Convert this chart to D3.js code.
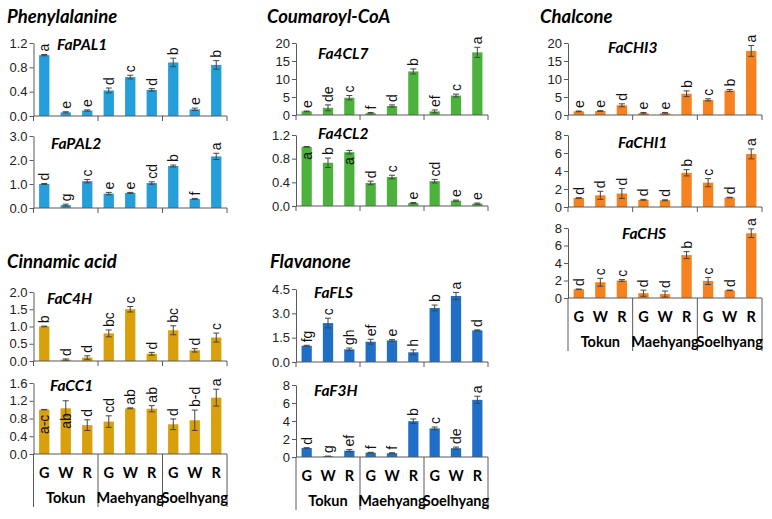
<!DOCTYPE html>
<html><head><meta charset="utf-8">
<script src="https://cdn.jsdelivr.net/npm/d3@7"></script>
<style>
body{margin:0;background:#fff;}
svg{display:block;font-family:Lato,"Open Sans",sans-serif;}
</style></head>
<body><svg id="c" width="772" height="519"></svg>
<script>
// ---------- data ----------
const cultivars = ["Tokun", "Maehyang", "Soelhyang"];
const tissues = ["G", "W", "R"];
const categories = cultivars.flatMap(c => tissues.map(t => c + "-" + t));

const pal1Values = [1.0, 0.06, 0.09, 0.42, 0.64, 0.43, 0.88, 0.11, 0.84];
const pal1Errors = [0.01, 0.01, 0.01, 0.04, 0.03, 0.02, 0.07, 0.02, 0.07];
const pal1Letters = ["a", "e", "e", "d", "c", "d", "b", "e", "b"];
const pal1Ticks = [0, 0.4, 0.8, 1.2];

const pal2Values = [1.0, 0.12, 1.12, 0.6, 0.63, 1.04, 1.75, 0.38, 2.15];
const pal2Errors = [0.02, 0.04, 0.07, 0.05, 0.02, 0.05, 0.04, 0.02, 0.13];
const pal2Letters = ["d", "g", "c", "e", "e", "cd", "b", "f", "a"];
const pal2Ticks = [0, 1, 2, 3];

const c4hValues = [1.0, 0.04, 0.1, 0.8, 1.5, 0.21, 0.89, 0.31, 0.68];
const c4hErrors = [0.01, 0.02, 0.05, 0.1, 0.08, 0.04, 0.13, 0.05, 0.13];
const c4hLetters = ["b", "d", "d", "bc", "c", "d", "bc", "d", "c"];
const c4hTicks = [0, 0.5, 1.0, 1.5, 2.0];

const cc1Values = [1.0, 1.03, 0.65, 0.73, 1.03, 1.02, 0.67, 0.76, 1.27];
const cc1Errors = [0.005, 0.17, 0.12, 0.13, 0.01, 0.07, 0.12, 0.23, 0.19];
const cc1Letters = ["a-c", "ab", "d", "cd", "ab", "ab", "d", "b-d", "a"];
const cc1Inside = [0, 1];
const cc1Ticks = [0, 0.4, 0.8, 1.2, 1.6];

const cl7Values = [1.0, 2.0, 4.8, 0.5, 2.5, 12.1, 1.0, 5.4, 17.4];
const cl7Errors = [0.1, 0.8, 0.6, 0.2, 0.3, 0.7, 0.4, 0.4, 1.4];
const cl7Letters = ["e", "de", "c", "f", "d", "b", "ef", "c", "a"];
const cl7Ticks = [0, 5, 10, 15, 20];

const cl2Values = [1.0, 0.73, 0.91, 0.39, 0.49, 0.05, 0.42, 0.09, 0.04];
const cl2Errors = [0.005, 0.08, 0.03, 0.03, 0.03, 0.01, 0.03, 0.01, 0.01];
const cl2Letters = ["a", "b", "a", "d", "c", "e", "cd", "e", "e"];
const cl2Inside = [0, 2];
const cl2Ticks = [0, 0.4, 0.8, 1.2];

const flsValues = [1.0, 2.4, 0.78, 1.25, 1.33, 0.6, 3.33, 4.07, 1.95];
const flsErrors = [0.03, 0.3, 0.08, 0.15, 0.05, 0.15, 0.18, 0.22, 0.03];
const flsLetters = ["fg", "c", "gh", "ef", "e", "h", "b", "a", "d"];
const flsTicks = [0, 1.5, 3.0, 4.5];

const f3hValues = [1.0, 0.08, 0.7, 0.48, 0.42, 3.98, 3.18, 0.98, 6.35];
const f3hErrors = [0.03, 0.02, 0.12, 0.04, 0.05, 0.25, 0.15, 0.12, 0.4];
const f3hLetters = ["d", "g", "ef", "f", "f", "b", "c", "de", "a"];
const f3hTicks = [0, 2, 4, 6, 8];

const chi3Values = [1.0, 1.1, 2.7, 0.5, 0.5, 5.9, 4.2, 6.8, 17.8];
const chi3Errors = [0.1, 0.1, 0.4, 0.2, 0.2, 0.8, 0.3, 0.3, 1.5];
const chi3Letters = ["e", "e", "d", "e", "e", "b", "c", "b", "a"];
const chi3Ticks = [0, 5, 10, 15, 20];

const chi1Values = [1.0, 1.3, 1.5, 0.8, 0.75, 3.8, 2.7, 1.05, 5.9];
const chi1Errors = [0.03, 0.45, 0.55, 0.05, 0.05, 0.35, 0.45, 0.03, 0.55];
const chi1Letters = ["d", "d", "d", "d", "d", "b", "c", "d", "a"];
const chi1Ticks = [0, 2, 4, 6, 8];

const chsValues = [1.0, 1.8, 2.0, 0.55, 0.45, 4.9, 1.95, 0.88, 7.4];
const chsErrors = [0.03, 0.45, 0.1, 0.35, 0.35, 0.4, 0.4, 0.03, 0.5];
const chsLetters = ["d", "c", "c", "d", "d", "b", "c", "d", "a"];
const chsTicks = [0, 2, 4, 6, 8];

const groupTitles = ["Phenylalanine", "Cinnamic acid", "Coumaroyl-CoA", "Flavanone", "Chalcone"];

// ---------- layout ----------
const C_PAL = "#259fda", C_CIN = "#d9a00c", C_4CL = "#4bb23b", C_FLA = "#1f6fc7", C_CHA = "#f5821f";
const panels = [
  {gene:"FaPAL1", v:pal1Values, e:pal1Errors, l:pal1Letters, t:pal1Ticks, fmt:".1f", x0:33.5, x1:227, yTop:43, yBot:116, color:C_PAL, gx:57, gy:50},
  {gene:"FaPAL2", v:pal2Values, e:pal2Errors, l:pal2Letters, t:pal2Ticks, fmt:".1f", x0:33.5, x1:227, yTop:136, yBot:208, color:C_PAL, gx:51, gy:149},
  {gene:"FaC4H", v:c4hValues, e:c4hErrors, l:c4hLetters, t:c4hTicks, fmt:".1f", x0:33.5, x1:227, yTop:292, yBot:361, color:C_CIN, gx:47, gy:304},
  {gene:"FaCC1", v:cc1Values, e:cc1Errors, l:cc1Letters, t:cc1Ticks, fmt:".1f", x0:33.5, x1:227, yTop:383, yBot:454, color:C_CIN, gx:50, gy:391, inside:cc1Inside, bottom:true},
  {gene:"Fa4CL7", v:cl7Values, e:cl7Errors, l:cl7Letters, t:cl7Ticks, fmt:"d", x0:296, x1:488, yTop:43, yBot:115, color:C_4CL, gx:318, gy:59},
  {gene:"Fa4CL2", v:cl2Values, e:cl2Errors, l:cl2Letters, t:cl2Ticks, fmt:".1f", x0:296, x1:488, yTop:135, yBot:206, color:C_4CL, gx:318, gy:139, inside:cl2Inside},
  {gene:"FaFLS", v:flsValues, e:flsErrors, l:flsLetters, t:flsTicks, fmt:".1f", x0:296, x1:488, yTop:289, yBot:362, color:C_FLA, gx:314, gy:298},
  {gene:"FaF3H", v:f3hValues, e:f3hErrors, l:f3hLetters, t:f3hTicks, fmt:"d", x0:296, x1:488, yTop:385, yBot:457, color:C_FLA, gx:314, gy:396, bottom:true},
  {gene:"FaCHI3", v:chi3Values, e:chi3Errors, l:chi3Letters, t:chi3Ticks, fmt:"d", x0:568, x1:762, yTop:43, yBot:115, color:C_CHA, gx:608, gy:53},
  {gene:"FaCHI1", v:chi1Values, e:chi1Errors, l:chi1Letters, t:chi1Ticks, fmt:"d", x0:568, x1:762, yTop:135, yBot:207, color:C_CHA, gx:618, gy:148},
  {gene:"FaCHS", v:chsValues, e:chsErrors, l:chsLetters, t:chsTicks, fmt:"d", x0:568, x1:762, yTop:228, yBot:298, color:C_CHA, gx:622, gy:239, bottom:true}
];
const titlePos = [[7, 23], [7, 268], [267, 23], [270, 268], [540, 23]];
const ARIAL = "'Liberation Sans', Arial, sans-serif";

const svg = d3.select("#c");
const AX = "#595959";

groupTitles.forEach((t, i) => {
  svg.append("text").attr("x", titlePos[i][0]).attr("y", titlePos[i][1])
    .attr("font-size", 18.5).attr("font-weight", "bold").attr("font-style", "italic")
    .attr("fill", "#000").text(t);
});

panels.forEach(p => {
  const g = svg.append("g");
  const x = d3.scaleBand().domain(categories).range([p.x0, p.x1]).paddingInner(0.52).paddingOuter(0.26);
  const ymax = d3.max(p.t);
  const y = d3.scaleLinear().domain([0, ymax]).range([p.yBot, p.yTop]);
  const fmt = d3.format(p.fmt);

  // y axis
  const yAxis = d3.axisLeft(y).tickValues(p.t).tickFormat(fmt).tickSize(4).tickSizeOuter(0);
  const ya = g.append("g").attr("transform", `translate(${p.x0},0)`).call(yAxis);
  ya.select(".domain").attr("stroke", AX);
  ya.selectAll(".tick line").attr("stroke", AX);
  ya.selectAll(".tick text").attr("font-size", 13).attr("fill", "#222").attr("x", -6)
    .attr("font-family", ARIAL);

  // bars
  g.selectAll("rect.bar").data(p.v).join("rect")
    .attr("x", (d, i) => x(categories[i])).attr("width", x.bandwidth())
    .attr("y", d => y(d)).attr("height", d => y(0) - y(d)).attr("fill", p.color);

  // error bars
  const cap = 3;
  p.v.forEach((d, i) => {
    const cx = x(categories[i]) + x.bandwidth() / 2;
    const lo = y(Math.max(0, d - p.e[i])), hi = y(d + p.e[i]);
    g.append("line").attr("x1", cx).attr("x2", cx).attr("y1", lo).attr("y2", hi).attr("stroke", "#444").attr("stroke-width", 1);
    [lo, hi].forEach(yy => g.append("line").attr("x1", cx - cap).attr("x2", cx + cap).attr("y1", yy).attr("y2", yy).attr("stroke", "#444").attr("stroke-width", 1));
    // letter
    const inside = p.inside && p.inside.includes(i);
    const ly = inside ? y(d) + 5 : hi - 3;
    g.append("text")
      .attr("transform", `translate(${cx},${ly}) rotate(-90)`)
      .attr("dy", "0.36em")
      .attr("text-anchor", inside ? "end" : "start")
      .attr("font-family", ARIAL)
      .attr("font-size", 14).attr("fill", "#111").text(p.l[i]);
  });

  // x axis baseline & group separators
  g.append("line").attr("x1", p.x0).attr("x2", p.x1).attr("y1", y(0)).attr("y2", y(0)).attr("stroke", AX);
  const sepLen = p.bottom ? 53 : 5;
  const bounds = [0, 3, 6, 9].map(k => k < 9 ? x(categories[k]) - x.step() * x.paddingInner() / 2 : p.x1);
  bounds[0] = p.x0;
  bounds.forEach(bx => g.append("line").attr("x1", bx).attr("x2", bx).attr("y1", y(0)).attr("y2", y(0) + sepLen).attr("stroke", AX));

  if (p.bottom) {
    categories.forEach((c, i) => {
      g.append("text").attr("x", x(c) + x.bandwidth() / 2).attr("y", y(0) + 24)
        .attr("text-anchor", "middle").attr("font-size", 14.5).attr("font-weight", "bold").text(tissues[i % 3]);
    });
    cultivars.forEach((c, k) => {
      g.append("text").attr("x", (bounds[k] + bounds[k + 1]) / 2).attr("y", y(0) + 49)
        .attr("text-anchor", "middle").attr("font-size", 14.5).attr("font-weight", "bold").text(c);
    });
  }

  // gene label
  g.append("text").attr("x", p.gx).attr("y", p.gy).attr("font-size", 15.5)
    .attr("font-weight", "bold").attr("font-style", "italic").text(p.gene);
});
</script></body></html>
